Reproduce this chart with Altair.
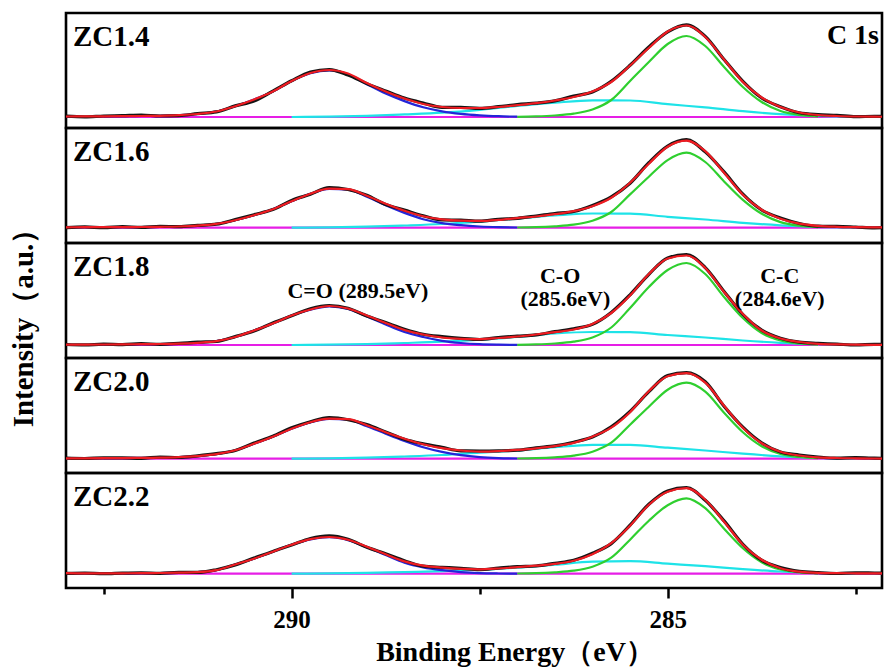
import altair as alt
import pandas as pd

FONT = "Liberation Serif"

samples = ["ZC1.4", "ZC1.6", "ZC1.8", "ZC2.0", "ZC2.2"]
# background level of each panel (intensity units above panel floor)
background = [11.0, 15.3, 13.0, 14.3, 14.3]

# binding energy grid for raw data and total fit (eV)
energy = [293.0, 292.75, 292.5, 292.25, 292.0, 291.75, 291.5, 291.25, 291.0, 290.75,
          290.5, 290.25, 290.0, 289.75, 289.5, 289.25, 289.0, 288.75, 288.5, 288.25,
          288.0, 287.75, 287.5, 287.25, 287.0, 286.75, 286.5, 286.25, 286.0, 285.75,
          285.5, 285.25, 285.0, 284.75, 284.5, 284.25, 284.0, 283.75, 283.5, 283.25,
          283.0, 282.75, 282.5, 282.25, 282.0]

fit_14 = [0.5, 0.6, 0.7, 0.8, 1.0, 1.2, 1.8, 3.0, 5.5, 10.8, 17.5, 25.5, 36.0, 44.0, 47.0,
          43.5, 34.0, 25.5, 18.5, 13.0, 10.0, 9.0, 9.0, 10.0, 11.8, 13.8, 16.5, 20.0, 25.5,
          35.0, 51.5, 69.0, 85.5, 91.5, 80.0, 57.5, 35.0, 19.5, 10.0, 4.5, 2.0, 1.0, 0.5, 0.3, 0.2]
fit_16 = [0.4, 0.5, 0.5, 0.6, 0.7, 0.9, 1.2, 2.0, 3.8, 7.5, 12.5, 18.5, 26.5, 34.0, 39.0,
          38.5, 32.0, 24.0, 17.0, 11.5, 8.3, 7.0, 6.8, 7.8, 9.6, 11.2, 13.5, 16.5, 21.5,
          30.0, 45.0, 64.0, 81.0, 87.0, 76.5, 55.0, 33.0, 18.0, 9.0, 4.0, 1.8, 0.9, 0.5, 0.3, 0.2]
fit_18 = [0.3, 0.4, 0.5, 0.6, 0.8, 1.0, 1.4, 2.2, 3.8, 8.0, 14.5, 21.5, 29.5, 35.5, 39.0,
          36.5, 29.5, 22.0, 15.0, 10.5, 7.5, 6.2, 5.8, 7.0, 8.5, 10.5, 12.8, 15.5, 21.0,
          32.0, 49.5, 71.0, 86.5, 89.5, 77.0, 53.0, 31.0, 14.5, 6.5, 3.0, 1.2, 0.6, 0.3, 0.2, 0.1]
fit_20 = [0.3, 0.4, 0.5, 0.6, 0.8, 1.0, 1.5, 2.6, 4.5, 8.5, 15.0, 22.0, 30.0, 36.5, 40.0,
          39.5, 33.5, 26.5, 20.0, 14.5, 10.5, 8.2, 7.1, 7.6, 8.8, 10.4, 12.6, 15.8, 22.0,
          31.0, 46.5, 67.5, 82.5, 85.5, 76.0, 53.0, 31.0, 15.5, 7.0, 3.2, 1.4, 0.7, 0.4, 0.2, 0.1]
fit_22 = [0.5, 0.3, 0.3, 0.4, 0.5, 0.7, 1.0, 1.5, 3.5, 9.2, 15.0, 22.0, 29.0, 34.5, 36.7,
          34.0, 27.0, 19.5, 12.3, 8.0, 6.0, 4.8, 4.4, 5.2, 6.5, 8.0, 9.8, 13.0, 19.5,
          30.5, 48.0, 69.0, 82.0, 85.5, 74.0, 52.0, 29.0, 14.0, 5.5, 2.0, 0.8, 0.5, 0.4, 0.3, 0.2]

raw_dev_14 = [0.3, -0.4, 0.3, 0.6, 1.0, -0.2, -0.5, 0.4, -0.4, 0.3, -1.5, 0.4, 0.2, 0.9, 0.4,
              -1.6, -0.6, 0.5, 0.4, 0.9, -0.3, 0.6, -0.4, 0.3, 0.6, 0.0, -0.4, 0.9, -0.5, 0.7,
              0.2, 1.0, -0.4, 0.6, 0.6, 0.0, 0.6, -0.5, 0.3, -0.3, 0.4, 0.7, -0.2, 0.4, 0.1]
raw_dev_16 = [-0.4, 0.3, -0.5, 0.4, -0.3, 0.5, -0.2, 0.3, -0.3, 0.6, 0.5, -0.4, 0.8, -0.6, 1.2,
              -0.3, 0.5, -0.8, 0.6, 0.4, -0.5, 0.5, -0.3, 0.6, -0.2, 0.5, 0.7, -0.3, 0.8, 0.9,
              -0.5, 1.0, 0.6, 1.0, -0.7, 0.8, 0.5, -0.3, 0.6, 0.2, -0.3, 0.5, 0.2, -0.4, 0.3]
raw_dev_18 = [0.2, -0.3, 0.3, -0.2, 0.5, -0.3, 0.2, 0.6, -0.3, 0.4, -0.5, 0.6, -0.3, 0.8, 0.5,
              0.3, -0.6, 0.4, 0.8, 0.3, 0.9, 0.4, -0.3, 0.5, 0.3, -0.4, 0.6, 0.8, -0.4, 0.5,
              0.7, -0.3, 0.5, 1.0, 0.4, 0.6, -0.5, 0.4, 0.3, -0.2, 0.5, 0.3, -0.3, 0.4, 0.2]
raw_dev_20 = [0.3, -0.2, 0.4, 0.2, -0.4, 0.6, -0.3, 0.2, 0.5, -0.3, 0.6, 0.4, 0.9, 0.5, 1.0,
              -0.5, 0.6, 0.3, -0.5, 0.4, 0.8, -0.4, 0.6, 0.3, -0.3, 0.5, 0.2, 0.7, -0.4, 0.9,
              0.8, -0.5, 0.7, 0.6, 0.9, -0.5, 0.6, 0.4, -0.3, 0.5, 0.3, -0.2, 0.6, 0.3, -0.2]
raw_dev_22 = [-0.2, 0.3, -0.3, 0.2, 0.4, -0.3, 0.3, -0.2, 0.5, -0.4, 0.6, 0.3, -0.4, 0.7, 1.1,
              0.4, -0.6, 0.5, 0.7, -0.5, 0.4, 0.6, -0.3, 0.4, 0.5, -0.3, 0.6, 0.4, 0.9, -0.4,
              0.6, 0.5, 0.8, 0.7, -0.6, 0.8, 0.4, -0.5, 0.6, 0.3, 0.2, -0.3, 0.5, 0.4, 0.3]

# C-C component (green)
energy_cc = [287.0, 286.75, 286.5, 286.25, 286.0, 285.75, 285.5, 285.25, 285.0, 284.75,
             284.5, 284.25, 284.0, 283.75, 283.5, 283.25, 283.0]
cc_14 = [0.2, 0.6, 1.5, 3.3, 7.5, 17.0, 36.0, 55.0, 73.0, 81.0, 71.0, 50.0, 30.0, 15.0, 6.0, 2.2, 0.6]
cc_16 = [0.2, 0.5, 1.4, 3.0, 7.0, 15.7, 33.3, 51.0, 67.6, 75.0, 65.7, 46.3, 27.8, 13.9, 5.6, 2.0, 0.6]
cc_18 = [0.2, 0.6, 1.5, 3.3, 7.5, 17.5, 37.0, 58.0, 75.0, 82.0, 71.0, 48.0, 27.0, 12.0, 4.5, 1.5, 0.4]
cc_20 = [0.2, 0.5, 1.4, 3.1, 7.0, 16.0, 34.0, 52.0, 69.0, 76.0, 67.0, 46.0, 26.5, 12.5, 4.8, 1.7, 0.5]
cc_22 = [0.2, 0.5, 1.4, 3.0, 7.0, 16.0, 34.0, 53.0, 68.5, 75.3, 65.5, 45.0, 25.5, 11.5, 4.2, 1.4, 0.4]

# C-O component (cyan)
energy_co = [290.0, 289.5, 289.0, 288.5, 288.0, 287.5, 287.0, 286.5, 286.0, 285.5,
             285.0, 284.5, 284.0, 283.5, 283.0, 282.5]
co_14 = [0.0, 0.4, 1.2, 2.6, 4.3, 7.2, 11.0, 14.3, 16.6, 16.5, 12.8, 9.6, 5.8, 2.8, 1.0, 0.2]
co_16 = [0.0, 0.3, 1.0, 2.2, 3.7, 6.1, 9.2, 12.2, 14.2, 14.0, 10.9, 8.2, 4.9, 2.4, 0.9, 0.2]
co_18 = [0.0, 0.3, 0.9, 2.0, 3.3, 5.4, 8.0, 11.5, 13.0, 12.8, 10.0, 7.5, 4.5, 2.2, 0.8, 0.2]
co_20 = [0.0, 0.3, 1.0, 2.2, 3.7, 6.0, 8.2, 11.5, 13.8, 13.8, 11.0, 8.2, 5.0, 2.4, 0.9, 0.2]
co_22 = [0.0, 0.3, 0.8, 1.6, 2.5, 4.0, 6.0, 9.0, 12.0, 12.5, 10.0, 7.5, 4.6, 2.2, 0.8, 0.2]

# C=O component (blue)
energy_cdo = [292.5, 292.25, 292.0, 291.75, 291.5, 291.25, 291.0, 290.75, 290.5, 290.25,
              290.0, 289.75, 289.5, 289.25, 289.0, 288.75, 288.5, 288.25, 288.0, 287.75,
              287.5, 287.25, 287.0]
cdo_14 = [0.7, 0.8, 1.0, 1.2, 1.8, 3.0, 5.5, 10.8, 17.5, 25.5, 36.0, 43.8, 46.6, 42.6, 32.8,
          23.5, 15.9, 9.7, 5.7, 3.2, 1.7, 0.8, 0.3]
cdo_16 = [0.5, 0.6, 0.7, 0.9, 1.2, 2.0, 3.8, 7.5, 12.5, 18.5, 26.5, 33.8, 38.7, 38.0, 31.0,
          22.4, 14.8, 8.5, 4.6, 2.5, 1.2, 0.5, 0.2]
cdo_18 = [0.5, 0.6, 0.8, 1.0, 1.4, 2.2, 3.8, 8.0, 14.5, 21.5, 29.5, 35.3, 38.7, 36.0, 28.6,
          20.5, 13.0, 8.0, 4.2, 2.0, 0.8, 0.3, 0.1]
cdo_20 = [0.5, 0.6, 0.8, 1.0, 1.5, 2.6, 4.5, 8.5, 15.0, 22.0, 30.0, 36.3, 39.7, 39.0, 32.5,
          25.0, 17.8, 11.5, 6.8, 3.6, 1.6, 0.6, 0.2]
cdo_22 = [0.3, 0.4, 0.5, 0.7, 1.0, 1.5, 3.5, 9.2, 15.0, 22.0, 29.0, 34.4, 36.5, 33.6, 26.4,
          18.6, 11.0, 6.3, 3.5, 1.6, 0.6, 0.2, 0.05]

# flat background (magenta)
energy_bg = [293.0, 282.0]
bg_line = [0.0, 0.0]

fits = [fit_14, fit_16, fit_18, fit_20, fit_22]
raw_devs = [raw_dev_14, raw_dev_16, raw_dev_18, raw_dev_20, raw_dev_22]
ccs = [cc_14, cc_16, cc_18, cc_20, cc_22]
cos = [co_14, co_16, co_18, co_20, co_22]
cdos = [cdo_14, cdo_16, cdo_18, cdo_20, cdo_22]

# peak annotations (shown in the ZC1.8 panel)
ann_text = ["C=O (289.5eV)", "C-O", "(285.6eV)", "C-C", "(284.6eV)"]
ann_x = [289.12, 286.43, 286.36, 283.51, 283.51]
ann_y = [60.3, 75.0, 52.0, 75.0, 52.0]

tick_values = [292.5, 290, 287.5, 285, 282.5]

PANEL_W, PANEL_H = 816, 115
x_scale = alt.Scale(domain=[282.15, 293.0], reverse=True, nice=False, zero=False)
y_scale = alt.Scale(domain=[0, PANEL_H], nice=False, zero=False)

bottom_axis = alt.Axis(
    values=tick_values, format=".0f",
    labelExpr="datum.value % 5 == 0 ? datum.label : ''",
    tickSize={"condition": {"test": "datum.value % 5 == 0", "value": 10}, "value": 6},
    tickWidth=2.5, tickColor="black", domain=False, grid=False,
    labelFont=FONT, labelFontSize=25, labelFontWeight="bold", labelColor="black",
    labelPadding=9, title=None, labelFlush=False, labelOverlap=False,
)

COLORS = {"raw": "#141414", "fit": "#ee1c22", "cc": "#2fcf2f", "co": "#1ee3e8",
          "cdo": "#2424d8", "bg": "#e61ee6"}


def line(xs, hs, bg, color, width, interp, axis):
    df = pd.DataFrame({"x": list(xs), "y": [bg + h for h in hs]})
    return alt.Chart(df).mark_line(
        color=color, strokeWidth=width, interpolate=interp, clip=True
    ).encode(
        x=alt.X("x:Q", scale=x_scale, axis=axis),
        y=alt.Y("y:Q", scale=y_scale, axis=None),
    )


def text_value(txt, x, y, size, align="left", baseline="alphabetic", angle=0):
    kw = dict(font=FONT, fontWeight="bold", fontSize=size, align=align,
              baseline=baseline, color="black")
    if angle:
        kw["angle"] = angle
    return alt.Chart(pd.DataFrame({"t": [txt]})).mark_text(**kw).encode(
        x=alt.value(x), y=alt.value(y), text="t:N")


panels = []
for i, name in enumerate(samples):
    bg = background[i]
    axis = bottom_axis if i == len(samples) - 1 else None
    raw = [f + d for f, d in zip(fits[i], raw_devs[i])]
    layers = [
        line(energy_bg, bg_line, bg, COLORS["bg"], 2.2, "linear", axis),
        line(energy_co, cos[i], bg, COLORS["co"], 2.2, "monotone", axis),
        line(energy_cdo, cdos[i], bg, COLORS["cdo"], 2.2, "monotone", axis),
        line(energy_cc, ccs[i], bg, COLORS["cc"], 2.2, "monotone", axis),
        line(energy, raw, bg, COLORS["raw"], 3.2, "monotone", axis),
        line(energy, fits[i], bg, COLORS["fit"], 2.2, "monotone", axis),
        text_value(name, 7, 33, 29),
    ]
    if i == 0:
        layers.append(text_value("C 1s", 813, 31, 28, align="right"))
    if i == 2:
        adf = pd.DataFrame({"t": ann_text, "x": ann_x, "y": ann_y})
        layers.append(
            alt.Chart(adf).mark_text(font=FONT, fontWeight="bold", fontSize=22,
                                     align="center", baseline="alphabetic",
                                     color="black").encode(
                x=alt.X("x:Q", scale=x_scale, axis=axis),
                y=alt.Y("y:Q", scale=y_scale, axis=None),
                text="t:N")
        )
        layers.append(text_value("Intensity（a.u.）", -42.5, 78, 29,
                                 align="center", baseline="middle", angle=270))
    if i == len(samples) - 1:
        layers.append(text_value("Binding Energy（eV）", 449, 188, 28,
                                 align="center"))
    panels.append(alt.layer(*layers).properties(width=PANEL_W, height=PANEL_H))

chart = alt.vconcat(*panels, spacing=0, bounds="flush").configure_view(
    stroke="black", strokeWidth=2.6
).properties(
    padding={"left": 8, "top": 11, "right": 0, "bottom": 0},
    background="white",
)

chart.save("out.html", embed_options={"renderer": "svg", "actions": False})
